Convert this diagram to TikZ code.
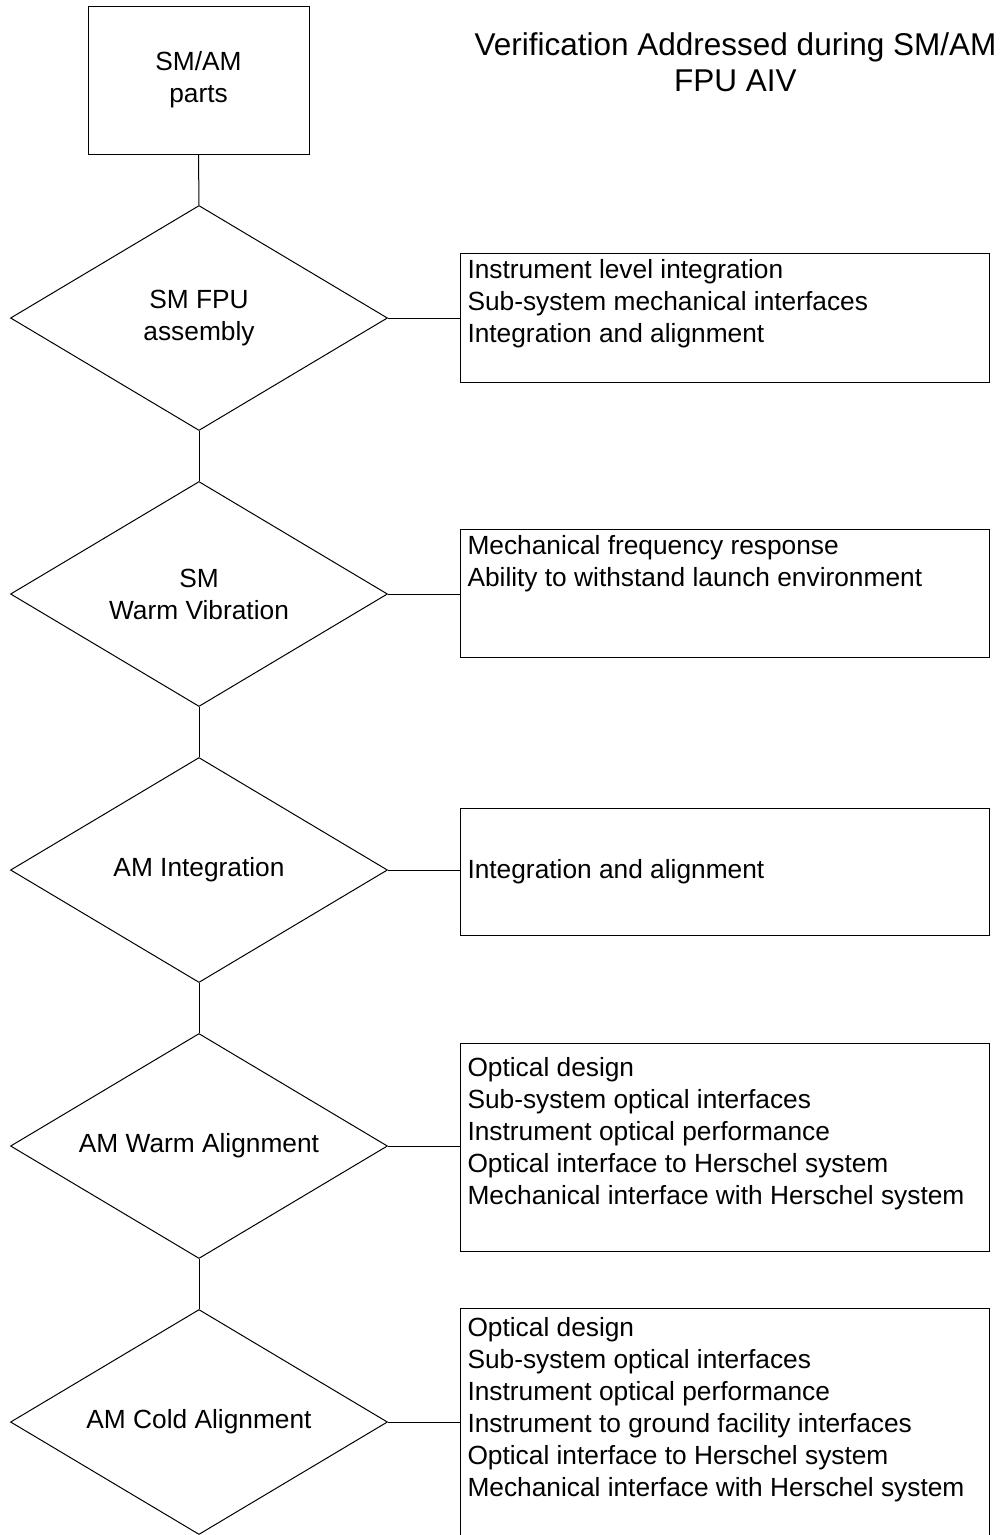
\documentclass[tikz,border=0pt]{standalone}
\usepackage{fontspec}
\setmainfont{Liberation Sans}
\usetikzlibrary{positioning,shapes.geometric}

\begin{document}
\begin{tikzpicture}[x=1pt, y=-1pt, line width=1pt,
                    every node/.style={font=\fontsize{26.3}{32}\selectfont},
                    part/.style={rectangle, draw, minimum width=221pt,
                                 minimum height=148pt, align=center},
                    decision/.style={diamond, draw, aspect=1.68, minimum width=377pt,
                                     minimum height=225pt, inner sep=0pt, align=center},
                    infobox/.style={rectangle, draw, anchor=north west, minimum width=529pt},
                    info/.style={inner sep=0pt, align=left, anchor=north west}]
\useasboundingbox (0,0) rectangle (1005,1535);
\clip (0,0) rectangle (1005,1535);
\node[part] (parts) at (198.5,80) {SM/AM\\parts};
\node[font=\fontsize{31.5}{36}\selectfont, align=center] (title) at (735.5,62)
  {Verification Addressed during SM/AM\\FPU AIV};
\foreach \i/\txt in {1/{SM FPU\\assembly}, 2/{SM\\Warm Vibration}, 3/AM Integration,
                     4/AM Warm Alignment, 5/AM Cold Alignment}
  \node[decision] (d\i) at (199,{318+276*(\i-1)}) {\txt};
% verification boxes
\node[infobox, minimum height=129pt] (b1) at (460,253) {};
\node[infobox, minimum height=128pt] (b2) at (460,529) {};
\node[infobox, minimum height=127pt] (b3) at (460,808) {};
\node[infobox, minimum height=208pt] (b4) at (460,1043) {};
\node[infobox, minimum height=262pt] (b5) at (460,1308) {};
\node[info, below right=6pt and 7pt of b1.north west] (t1)
  {Instrument level integration\\Sub-system mechanical interfaces\\Integration and alignment};
\node[info, below right=6pt and 7pt of b2.north west] (t2)
  {Mechanical frequency response\\Ability to withstand launch environment};
\node[info, right=7pt of b3.west] (t3) {Integration and alignment};
\node[info, below right=14pt and 7pt of b4.north west] (t4)
  {Optical design\\Sub-system optical interfaces\\Instrument optical performance\\
   Optical interface to Herschel system\\Mechanical interface with Herschel system};
\node[info, below right=9pt and 7pt of b5.north west] (t5)
  {Optical design\\Sub-system optical interfaces\\Instrument optical performance\\
   Instrument to ground facility interfaces\\Optical interface to Herschel system\\
   Mechanical interface with Herschel system};
% connectors
\draw (parts.south) -- (d1.north);
\foreach \i [count=\j from 2] in {1,...,4}
  \draw (d\i.south) -- (d\j.north);
\foreach \i in {1,...,5}
  \draw (d\i.east) -- (d\i.east -| b\i.west);
\end{tikzpicture}
\end{document}
